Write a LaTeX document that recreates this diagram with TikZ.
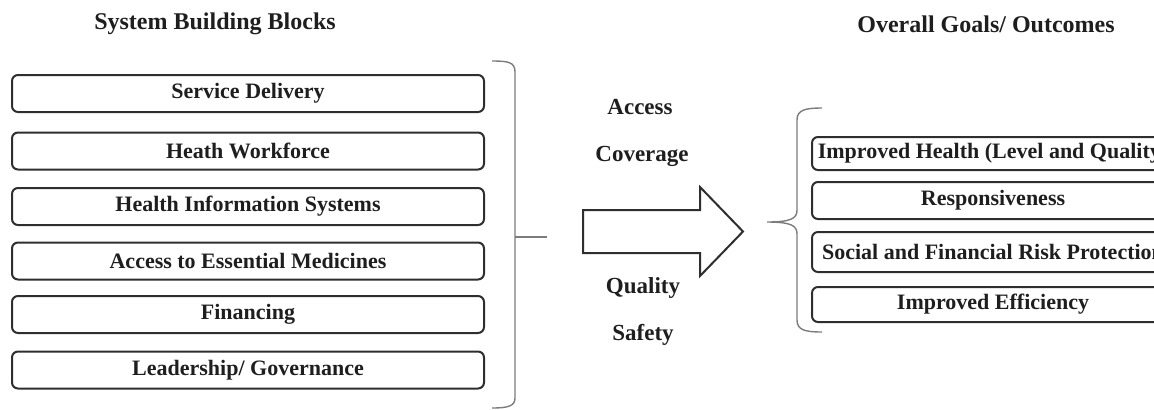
\documentclass[tikz,border=0pt]{standalone}
\usepackage{fontspec}
\setmainfont{Liberation Serif}
\definecolor{boxline}{HTML}{2E2E2E}
\definecolor{bracecolor}{HTML}{7C7C7C}
\definecolor{textcolor}{HTML}{1E1E1E}

\begin{document}
\begin{tikzpicture}[
  x=0.5pt, y=-0.5pt,
  text=textcolor,
  block/.style={
    draw=boxline, line width=1pt, rounded corners=3pt,
    minimum width=236pt, minimum height=18.5pt, inner sep=0pt,
    font=\fontsize{11}{13}\selectfont\bfseries,
  },
  goal/.style={block, minimum width=181pt, minimum height=#1},
  heading/.style={font=\fontsize{12}{14}\selectfont\bfseries},
  factor/.style={font=\fontsize{11.5}{14}\selectfont\bfseries},
  brace/.style={draw=bracecolor, line width=0.7pt},
  bigarrow/.style={draw=boxline, fill=white, line width=1pt, line join=miter},
]
\useasboundingbox (0,0) rectangle (1154,409);
\clip (0,0) rectangle (1154,409);

% --- headings -------------------------------------------------------
\node[heading] (blockstitle) at (215,24) {System Building Blocks};
\node[heading] (goalstitle)  at (986,24) {Overall Goals/ Outcomes};

% --- building blocks ------------------------------------------------
\node[block] (delivery)  at (248,93.5) {Service Delivery};
\node[block] (workforce) at (248,151)  {Heath Workforce};
\node[block] (infosys)   at (248,206.5){Health Information Systems};
\node[block] (medicines) at (248,261)  {Access to Essential Medicines};
\node[block] (financing) at (248,314.5){Financing};
\node[block] (governance) at (248,370) {Leadership/ Governance};

% left brace
\draw[brace] (492,61) .. controls (508,61) and (515,62) .. (515,72)
  -- (515,398) .. controls (515,406) and (508,408) .. (492,408);
\draw[brace] (515,237) -- (547,237);

% --- intermediate factors -------------------------------------------
\node[factor] (access)   at (640,107) {Access};
\node[factor] (coverage) at (642,156) {Coverage};
\node[factor] (quality)  at (643,288) {Quality};
\node[factor] (safety)   at (643,335) {Safety};

\draw[bigarrow] (583,210) -- (700,210) -- (700,187) -- (743,231.5)
  -- (700,276) -- (700,253) -- (583,253) -- cycle;

% right brace
\draw[brace] (822,108) .. controls (805,108) and (797,110) .. (797,120)
  -- (797,210) .. controls (797,218) and (792,222) .. (767,222)
  .. controls (792,222) and (797,226) .. (797,234)
  -- (797,320) .. controls (797,330) and (805,332) .. (822,332);

% --- goals / outcomes -----------------------------------------------
\node[goal=16.5pt] (health)     at (993,153.5) {Improved Health (Level and Quality)};
\node[goal=18.5pt] (responsive) at (993,200.5) {Responsiveness};
\node[goal=20pt]   (protection) at (993,252)   {Social and Financial Risk Protection};
\node[goal=17.5pt] (efficiency) at (993,304.5) {Improved Efficiency};

\end{tikzpicture}
\end{document}
